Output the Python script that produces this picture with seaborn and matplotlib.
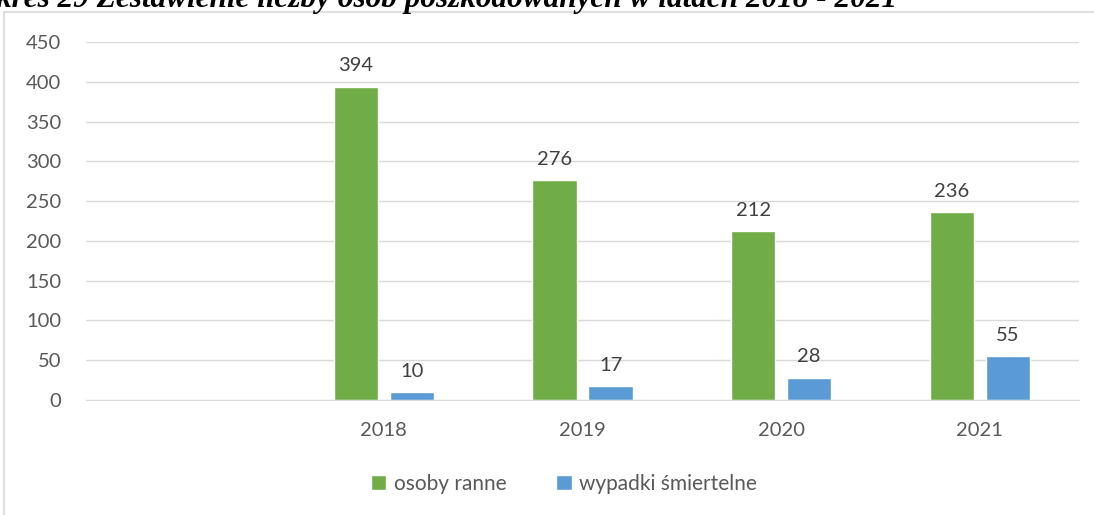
import pandas as pd
import seaborn as sns
import matplotlib.pyplot as plt
from matplotlib.patches import Rectangle

years = ['2018', '2019', '2020', '2021']
slots = [' '] + years  # first slot is an empty category in the source chart
injured = [394, 276, 212, 236]
fatal = [10, 17, 28, 55]
series = ['osoby ranne', 'wypadki śmiertelne']
colors = ['#70AD47', '#5B9BD5']

df = pd.DataFrame({
    'year': years * 2,
    'value': injured + fatal,
    'series': [series[0]] * 4 + [series[1]] * 4,
})

sns.set_style('white')
plt.rcParams['font.family'] = ['Lato', 'DejaVu Sans']

fig = plt.figure(figsize=(10.94, 5.15), dpi=100)
ax = fig.add_axes([86 / 1094, 1 - 400 / 515, (1079 - 86) / 1094, (400 - 42) / 515])

sns.barplot(data=df, x='year', y='value', hue='series', order=slots,
            hue_order=series, palette=colors, width=0.564, gap=0.21,
            saturation=1, ax=ax, legend=True)

for c in ax.containers:
    ax.bar_label(c, padding=9, fontsize=14.5, color='#404040')

ax.set_ylim(0, 450)
ax.set_yticks(range(0, 451, 50))
ax.yaxis.grid(True, color='#D9D9D9', linewidth=1)
ax.set_axisbelow(True)
for s in ['top', 'right', 'left']:
    ax.spines[s].set_visible(False)
ax.spines['bottom'].set_color('#D9D9D9')
ax.tick_params(axis='y', length=0, pad=18, labelsize=14.5, labelcolor='#595959')
ax.tick_params(axis='x', length=0, pad=16, labelsize=14.5, labelcolor='#595959')
ax.set_xlabel('')
ax.set_ylabel('')

ax.legend(loc='center', bbox_to_anchor=(564 / 1094, 1 - 484 / 515),
          bbox_transform=fig.transFigure, ncol=2, frameon=False, fontsize=15,
          handlelength=0.75, handleheight=0.75, handletextpad=0.35,
          columnspacing=2.4, labelcolor='#595959')

# outer chart frame (partly outside the image)
fig.patches.append(Rectangle((4 / 1094, -0.1), 1.2, 1 - 12 / 515 + 0.1,
                             transform=fig.transFigure, fill=False,
                             edgecolor='#D9D9D9', linewidth=1.2))

fig.text(-0.004, 1 - 7 / 515, 'kres 29 Zestawienie liczby osób poszkodowanych w latach 2018 - 2021',
         family='Liberation Serif', weight='bold', style='italic', fontsize=22.5,
         ha='left', va='baseline', color='black')

plt.savefig('out.png', dpi=100)
